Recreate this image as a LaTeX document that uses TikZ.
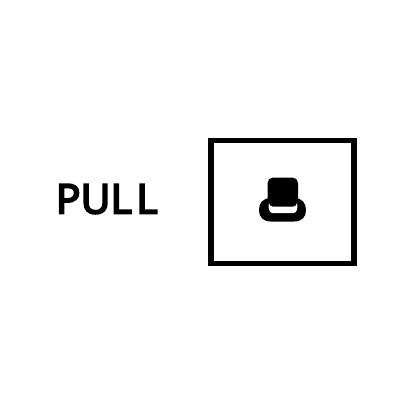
\documentclass[tikz,border=0pt]{standalone}
\usepackage{fontspec}
\newfontfamily\pullfont[FakeBold=4.2]{Noto Sans}
\tikzset{
  frame/.style={draw=black,line width=5.8pt,fill=white,minimum width=142.5pt,minimum height=123pt,inner sep=0pt},
  pulltext/.style={inner sep=0pt,font=\fontsize{41}{41}\pullfont,anchor=base west}
}
\begin{document}
\begin{tikzpicture}[x=1pt,y=-1pt]
\useasboundingbox (0,0) rectangle (400,400);
\node[pulltext] (label) at (55.6,213.5) {PUL\kern4.3pt L};
\node[frame] (box) at (282.5,202) {};
% hat
\fill[black] (271,198) -- (294,198) .. controls (302,198) and (306,203) .. (306,210) .. controls (306,217) and (302,221.5) .. (294,221.5) -- (271,221.5) .. controls (263,221.5) and (259,217) .. (259,210) .. controls (259,203) and (263,198) .. (271,198) -- cycle;
\fill[black,rounded corners=5.5pt] (267.5,177.5) rectangle (298,207);
\fill[white] (269,203) .. controls (269.3,205) and (270.5,206.5) .. (272.5,206.5) -- (293.5,206.5) .. controls (295.5,206.5) and (296.7,205) .. (297,203) .. controls (298,207) and (297.5,213.2) .. (293,213.2) -- (273,213.2) .. controls (268.5,213.2) and (268,207) .. (269,203) -- cycle;
\end{tikzpicture}
\end{document}
